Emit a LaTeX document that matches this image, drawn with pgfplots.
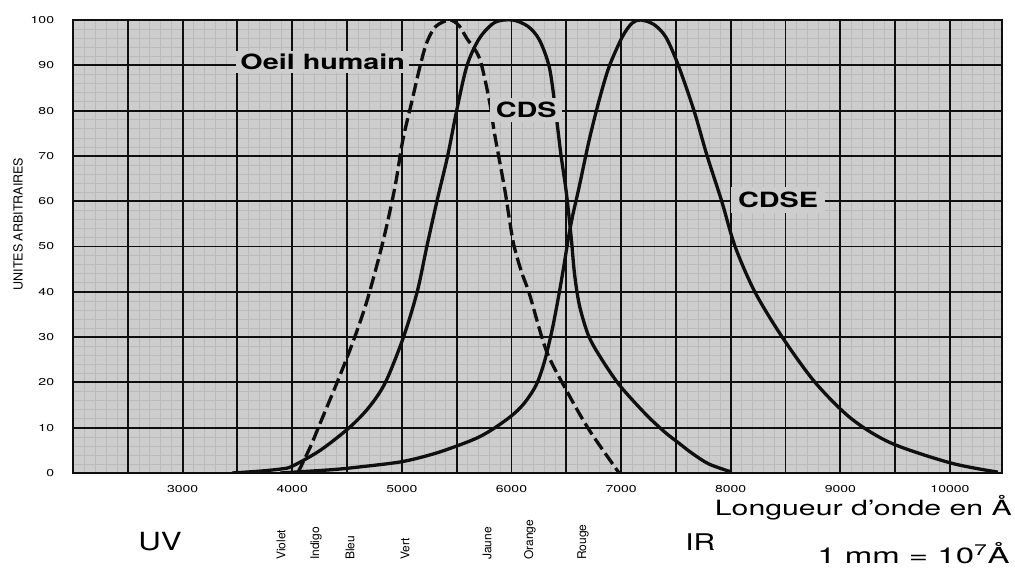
\documentclass[border=0pt]{standalone}
\usepackage{fontspec}
\setmainfont{TeX Gyre Heros}
\usepackage{pgfplots}
\pgfplotsset{compat=1.18}
\definecolor{bgc}{RGB}{205,205,205}
\definecolor{fine}{RGB}{186,186,186}
\definecolor{ink}{RGB}{15,15,15}
\begin{document}
\begin{tikzpicture}[x=1pt,y=1pt]
\useasboundingbox (0,0) rectangle (1015,568);
% paper background with fine millimetre grid
\fill[bgc] (73,95) rectangle (1002,548);
\begin{scope}[shift={(73,95)}]
  \draw[fine, line width=0.5pt, xstep=10.962, ystep=9.06] (0,0) grid (929,453);
\end{scope}
\begin{axis}[
  at={(73pt,95pt)}, anchor=south west,
  width=929pt, height=453pt, scale only axis,
  xmin=2000, xmax=10475, ymin=0, ymax=100,
  scaled x ticks=false, scaled y ticks=false,
  axis line style={line width=2.6pt, ink},
  xtick={2000,2500,...,10000},
  xticklabels={{},{},3000,{},4000,{},5000,{},6000,{},7000,{},8000,{},9000,{},10000},
  ytick={0,10,...,100},
  yticklabels={0,10,20,30,40,50,60,70,80,90,100},
  xmajorgrids, ymajorgrids,
  major grid style={line width=1.9pt, ink},
  major tick length=0pt,
  xticklabel style={font=\fontsize{10}{12}\selectfont, xscale=1.4, yshift=-9pt},
  yticklabel style={font=\fontsize{10}{12}\selectfont, xscale=1.4, xshift=-10pt},
]
% Oeil humain (dashed)
\addplot[line width=3.3pt, ink, smooth, dash pattern=on 13pt off 5pt] coordinates {
(4050,0) (4164,5.7) (4255,11) (4418,20.5) (4555,29) (4682,38) (4827,51) (4936,63)
(5009,73.5) (5091,82) (5164,89.6) (5227,95) (5310,98.6) (5436,100) (5520,98.8)
(5591,96) (5709,91.5) (5800,82) (5845,75) (5936,63) (5975,57) (6020,50.5)
(6090,44.5) (6164,39.5) (6318,27) (6500,18.3) (6709,9.5) (6982,0)};
% CDS
\addplot[line width=3.3pt, ink, smooth] coordinates {
(3450,0) (3700,0.4) (3900,0.9) (4000,1.5) (4255,5) (4520,10) (4700,14.5) (4850,20)
(5015,30) (5140,40) (5228,50) (5320,60) (5418,70) (5500,80) (5595,90) (5709,96)
(5850,99.5) (6009,100) (6150,98.6) (6255,95.6) (6345,89.6) (6400,80.5) (6450,70.5)
(6500,62) (6545,52) (6575,44) (6620,37) (6700,30.5) (6800,26) (6982,19.5) (7224,13)
(7400,9) (7527,6.6) (7645,4.4) (7800,2) (8009,0.2)};
% CDSE
\addplot[line width=3.3pt, ink, smooth] coordinates {
(3890,0) (4345,0.7) (4600,1.3) (5000,2.5) (5300,4.3) (5550,6.4) (5709,8) (5850,10)
(6009,12.8) (6120,15.5) (6227,19.5) (6300,24.5) (6370,31.5) (6430,39) (6480,46)
(6520,52) (6560,57) (6618,63.2) (6709,73.5) (6800,82.3) (6891,89.7) (7012,96.3)
(7100,99.3) (7180,100) (7300,99) (7409,96.2) (7522,90) (7665,80) (7785,70) (7918,60)
(8040,50) (8220,40) (8470,30) (8770,20) (9100,12) (9464,6.6) (10009,2.2) (10436,0.2)};
\end{axis}
% curve labels
\node[font=\bfseries\fontsize{21}{24}\selectfont, xscale=1.37, fill=bgc, inner sep=3pt, anchor=base west] at (236,498) {Oeil humain};
\node[font=\bfseries\fontsize{21}{24}\selectfont, xscale=1.37, fill=bgc, inner sep=4pt, anchor=base west] at (490,450) {CDS};
\node[font=\bfseries\fontsize{21}{24}\selectfont, xscale=1.37, fill=bgc, inner sep=5pt, anchor=base west] at (731,360) {CDSE};
% axis title
\node[rotate=90, font=\fontsize{12.5}{14}\selectfont] at (18,344) {UNITES ARBITRAIRES};
\node[anchor=base east, font=\fontsize{21}{24}\selectfont, xscale=1.44, inner sep=0pt] at (1012,53) {Longueur d’onde en Å};
\node[anchor=base east, font=\fontsize{22}{24}\selectfont, xscale=1.5, inner sep=0pt] at (1010,5) {1 mm = 10\textsuperscript{7}Å};
\node[anchor=base west, font=\fontsize{25}{28}\selectfont, xscale=1.25, inner sep=0pt] at (138,18) {UV};
\node[anchor=base west, font=\fontsize{23}{26}\selectfont, xscale=1.3, inner sep=0pt] at (685,18) {IR};
% colour names
\foreach \xx/\nm in {281/Violet,316/Indigo,350/Bleu,405/Vert,487/Jaune,530/Orange,583/Rouge}
  \node[rotate=90, anchor=west, font=\fontsize{12}{14}\selectfont, inner sep=0pt] at (\xx,8) {\nm};
\end{tikzpicture}
\end{document}
